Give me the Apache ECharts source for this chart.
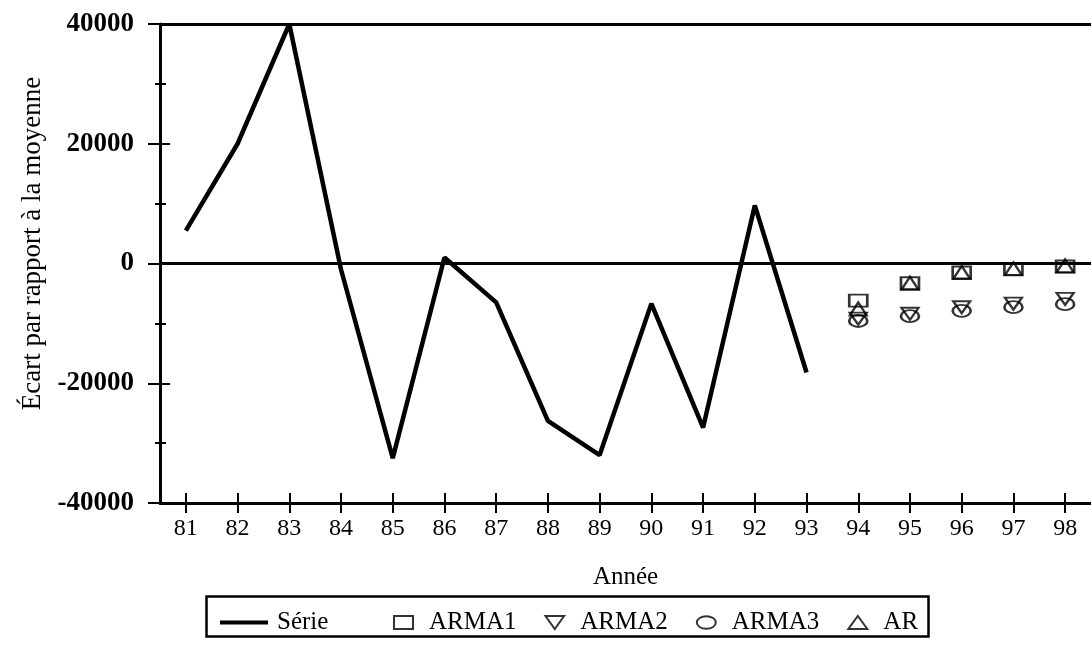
<!DOCTYPE html>
<html>
<head>
<meta charset="utf-8">
<script src="https://cdn.jsdelivr.net/npm/echarts@6/dist/echarts.min.js"></script>
<style>html,body{margin:0;padding:0;background:#fff;}#c{width:1091px;height:648px;}</style>
</head>
<body>
<div id="c"></div>
<script>
var years = ['81','82','83','84','85','86','87','88','89','90','91','92','93','94','95','96','97','98'];
var serieValues = [5500, 20000, 40000, -1000, -32500, 1000, -6500, -26300, -32000, -6700, -27400, 9700, -18200];
var forecastYears = ['94','95','96','97','98'];
var arma1 = [-6200, -3300, -1500, -900, -500];
var arma2 = [-9200, -8400, -7300, -6700, -5900];
var arma3 = [-9600, -8800, -7900, -7300, -6800];
var ar = [-7600, -3300, -1500, -900, -400];
var yTicks = [-40000, -20000, 0, 20000, 40000];

function pairs(vals){ return forecastYears.map(function(y,i){ return [y, vals[i]]; }); }

var font = 'Liberation Serif';
var hollow = {color: 'rgba(0,0,0,0)', borderColor: '#000', borderWidth: 2.2};
var downTri = 'path://M0,0 L20,0 L10,14 Z';
var ellipse = 'path://M0,6 A9,6 0 1,1 18,6 A9,6 0 1,1 0,6 Z';
var tickLine = {color: '#000', width: 2};
var gridBox = {left: 160, top: 24, width: 941, height: 479};

var chart = echarts.init(document.getElementById('c'), null, {renderer: 'canvas'});
chart.setOption({
  animation: false,
  backgroundColor: '#fff',
  grid: [gridBox, gridBox],
  xAxis: [{
    gridIndex: 0, type: 'category', data: years, boundaryGap: true, position: 'bottom',
    name: 'Année', nameLocation: 'middle', nameGap: 62,
    nameTextStyle: {fontFamily: font, fontSize: 25, color: '#000'},
    axisLine: {show: true, onZero: false, lineStyle: {color: '#000', width: 3}},
    axisTick: {show: true, alignWithLabel: true, inside: false, length: 10, lineStyle: tickLine},
    axisLabel: {show: true, fontFamily: font, fontSize: 24, color: '#000', margin: 14},
    splitLine: {show: false}
  }, {
    gridIndex: 1, type: 'category', data: years, boundaryGap: true, position: 'bottom',
    axisLine: {show: false, onZero: false},
    axisTick: {show: true, alignWithLabel: true, inside: true, length: 10, lineStyle: tickLine},
    axisLabel: {show: false},
    splitLine: {show: false}
  }],
  yAxis: [{
    gridIndex: 0, type: 'value', min: -40000, max: 40000, interval: 20000, position: 'left',
    name: 'Écart par rapport à la moyenne', nameLocation: 'middle', nameGap: 108,
    nameTextStyle: {fontFamily: font, fontSize: 27, color: '#000', padding: [0, 0, 0, 40]},
    axisLine: {show: true, onZero: false, lineStyle: {color: '#000', width: 3}},
    axisTick: {show: true, inside: false, length: 12, lineStyle: tickLine},
    minorTick: {show: true, splitNumber: 2, length: 5, lineStyle: tickLine},
    axisLabel: {fontFamily: font, fontSize: 27, fontWeight: 'bold', color: '#000', margin: 26,
      formatter: function(v){ return yTicks.indexOf(v) >= 0 ? String(v) : ''; }},
    splitLine: {show: false}
  }, {
    gridIndex: 1, type: 'value', min: -40000, max: 40000, interval: 20000, position: 'left',
    axisLine: {show: false, onZero: false},
    axisTick: {show: true, inside: true, length: 10, lineStyle: tickLine},
    minorTick: {show: true, splitNumber: 2, length: 6, lineStyle: tickLine},
    axisLabel: {show: false},
    splitLine: {show: false}
  }],
  legend: [{
    data: [{name: 'Série', icon: 'rect'}], left: 215, top: 605, itemWidth: 48, itemHeight: 4, itemGap: 0,
    itemStyle: {color: '#000', borderWidth: 0},
    textStyle: {fontFamily: font, fontSize: 25, color: '#000', padding: [0, 0, 0, 4]}
  }, {
    data: ['ARMA1', 'ARMA2', 'ARMA3', 'AR'], left: 388, top: 605, itemWidth: 19, itemHeight: 13, itemGap: 28,
    textStyle: {fontFamily: font, fontSize: 25, color: '#000', padding: [0, 0, 0, 11]}
  }],
  graphic: [{
    type: 'rect', left: 204, top: 594, shape: {width: 722, height: 40},
    style: {fill: 'none', stroke: '#000', lineWidth: 2.5}, silent: true
  }],
  series: [{
    name: 'Série', type: 'line', data: serieValues, symbol: 'none',
    lineStyle: {color: '#000', width: 4.5}, itemStyle: {color: '#000'},
    markLine: {
      silent: true, symbol: 'none', label: {show: false},
      lineStyle: {color: '#000', width: 3, type: 'solid'},
      data: [{yAxis: 0}, {yAxis: 40000}]
    }
  }, {
    name: 'ARMA1', type: 'scatter', data: pairs(arma1), symbol: 'rect', symbolSize: [18, 12], itemStyle: hollow
  }, {
    name: 'ARMA2', type: 'scatter', data: pairs(arma2), symbol: downTri, symbolSize: [17, 12], itemStyle: hollow
  }, {
    name: 'ARMA3', type: 'scatter', data: pairs(arma3), symbol: ellipse, symbolSize: [18, 12], itemStyle: hollow
  }, {
    name: 'AR', type: 'scatter', data: pairs(ar), symbol: 'triangle', symbolSize: [17, 13], itemStyle: hollow
  }]
});
</script>
</body>
</html>
